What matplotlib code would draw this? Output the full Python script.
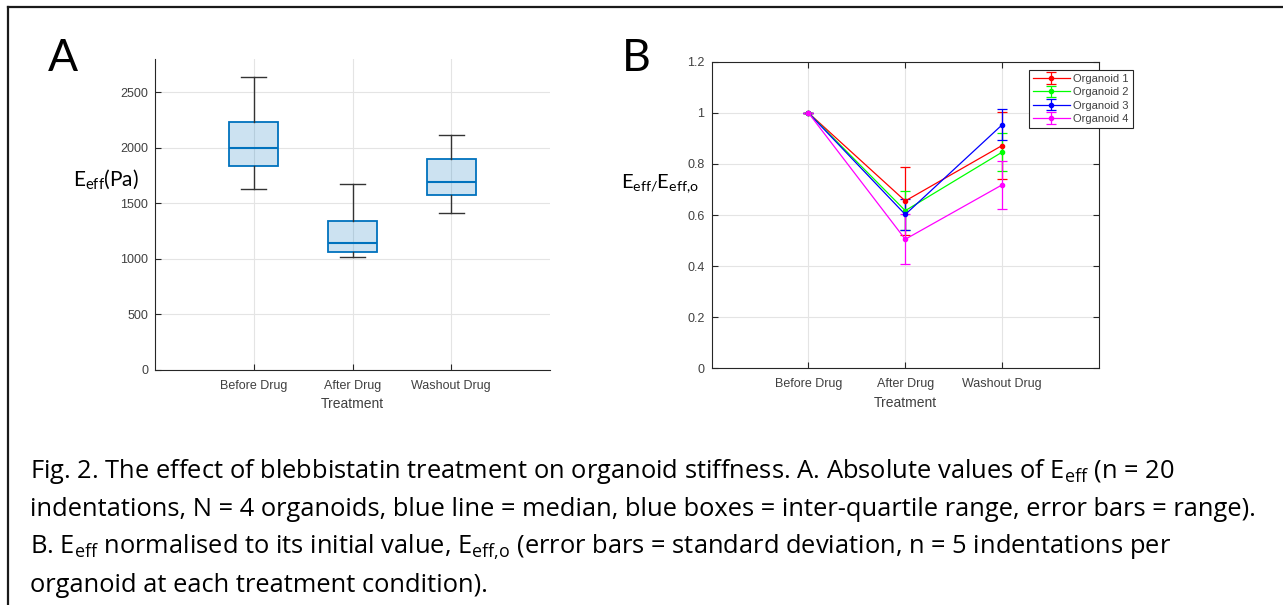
import numpy as np
import matplotlib.pyplot as plt
from matplotlib.lines import Line2D

categories = ["Before Drug", "After Drug", "Washout Drug"]

# panel A: box statistics of E_eff (Pa)
whis_lo = [1630, 1020, 1410]
q1      = [1840, 1065, 1575]
med     = [2000, 1140, 1690]
q3      = [2235, 1338, 1903]
whis_hi = [2640, 1673, 2117]

# panel B: normalised E_eff, mean and standard deviation
organoids = ["Organoid 1", "Organoid 2", "Organoid 3", "Organoid 4"]
org1_mean = [1.0, 0.655, 0.872]
org1_sd   = [0.0, 0.134, 0.132]
org2_mean = [1.0, 0.617, 0.846]
org2_sd   = [0.0, 0.076, 0.075]
org3_mean = [1.0, 0.602, 0.953]
org3_sd   = [0.0, 0.062, 0.060]
org4_mean = [1.0, 0.505, 0.718]
org4_sd   = [0.0, 0.097, 0.093]
org_colors = ['#ff0000', '#00ff00', '#0000ff', '#ff00ff']

W, H = 1283, 605
fig = plt.figure(figsize=(W/100, H/100), dpi=100)

tick_col = '#404040'
blue = '#0072bd'
tick_font = 'Liberation Sans'
cap_font = 'Open Sans'

def px(x0, y0, x1, y1):
    return [x0/W, 1 - y1/H, (x1-x0)/W, (y1-y0)/H]

def style(ax, box):
    ax.set_xlim(0, 4)
    ax.set_xticks([1, 2, 3])
    ax.set_xticklabels(categories, fontsize=9, family=tick_font, color=tick_col)
    for lab in ax.get_yticklabels():
        lab.set_family(tick_font)
        lab.set_fontsize(9)
        lab.set_color(tick_col)
    ax.tick_params(direction='in', length=4, width=0.8, color='#262626',
                   top=box, right=box, pad=7)
    ax.tick_params(axis='y', pad=5)
    ax.grid(True, color='#e4e4e4', linewidth=0.8)
    ax.set_axisbelow(True)
    for s in ax.spines:
        ax.spines[s].set_color('#262626')
        ax.spines[s].set_linewidth(0.8)
        if not box and s in ('top', 'right'):
            ax.spines[s].set_visible(False)
    ax.set_xlabel('Treatment', fontsize=10, family=tick_font, color=tick_col, labelpad=4)

# ---- panel A ----
axA = fig.add_axes(px(155, 59, 550, 370))
stats = [dict(whislo=whis_lo[i], q1=q1[i], med=med[i], q3=q3[i], whishi=whis_hi[i],
              label=categories[i]) for i in range(3)]
axA.bxp(stats, positions=[1, 2, 3], widths=0.5, capwidths=0.25, patch_artist=True,
        showfliers=False,
        boxprops=dict(facecolor=(0, 0.447, 0.741, 0.2), edgecolor=blue, linewidth=1.3),
        medianprops=dict(color=blue, linewidth=1.5),
        whiskerprops=dict(color='#333333', linewidth=1),
        capprops=dict(color='#333333', linewidth=1))
axA.set_ylim(0, 2800)
axA.set_yticks([0, 500, 1000, 1500, 2000, 2500])
style(axA, False)

# ---- panel B ----
axB = fig.add_axes(px(711.5, 61.7, 1099, 368.3))
xs = np.arange(1, 4)
means = [org1_mean, org2_mean, org3_mean, org4_mean]
sds = [org1_sd, org2_sd, org3_sd, org4_sd]
for name, m, s, c in zip(organoids, means, sds, org_colors):
    axB.errorbar(xs, m, yerr=s, color=c, linewidth=0.9, marker='o', markersize=3,
                 capsize=3.5, capthick=0.9, elinewidth=0.9, label=name)
axB.set_ylim(0, 1.2)
axB.set_yticks([0, 0.2, 0.4, 0.6, 0.8, 1, 1.2])
axB.set_yticklabels(['0', '0.2', '0.4', '0.6', '0.8', '1', '1.2'])
style(axB, True)
leg = axB.legend(loc='upper left', bbox_to_anchor=(1029/W, 1 - 70/H),
                 bbox_transform=fig.transFigure, borderaxespad=0,
                 prop={'family': tick_font, 'size': 8}, handlelength=3.3,
                 handletextpad=0.35, labelspacing=0.3, borderpad=0.35,
                 fancybox=False, framealpha=1, edgecolor='#262626')
leg.get_frame().set_linewidth(0.8)
for t in leg.get_texts():
    t.set_color(tick_col)

# panel letters and y-labels
fig.text(48/W, 1 - 71/H, 'A', fontsize=32, family='Lato', va='baseline')
fig.text(622/W, 1 - 71/H, 'B', fontsize=32, family='Lato', va='baseline')
fig.text(73/W, 1 - 186/H, r'E$\mathregular{_{eff}}$(Pa)', fontsize=15, family='Lato',
         va='baseline')
fig.text(621/W, 1 - 188/H, r'E$\mathregular{_{eff/}}$E$\mathregular{_{eff{,}o}}$',
         fontsize=14.5, family='Lato', va='baseline')

# caption
caption = [
    r"Fig. 2. The effect of blebbistatin treatment on organoid stiffness. A. Absolute values of E$\mathregular{_{eff}}$ (n = 20",
    "indentations, N = 4 organoids, blue line = median, blue boxes = inter-quartile range, error bars = range).",
    r"B. E$\mathregular{_{eff}}$ normalised to its initial value, E$\mathregular{_{eff{,}o}}$ (error bars = standard deviation, n = 5 indentations per",
    "organoid at each treatment condition).",
]
for i, line in enumerate(caption):
    fig.text(30/W, 1 - (477.5 + 38.3*i)/H, line, fontsize=18.4, family=cap_font,
             va='baseline', color='black')

# outer frame
fig.add_artist(Line2D([8/W, 1], [1 - 7/H]*2, color='#1a1a1a', linewidth=1.6))
fig.add_artist(Line2D([8/W]*2, [0, 1 - 7/H], color='#1a1a1a', linewidth=1.6))

fig.savefig('out.png', dpi=100)
